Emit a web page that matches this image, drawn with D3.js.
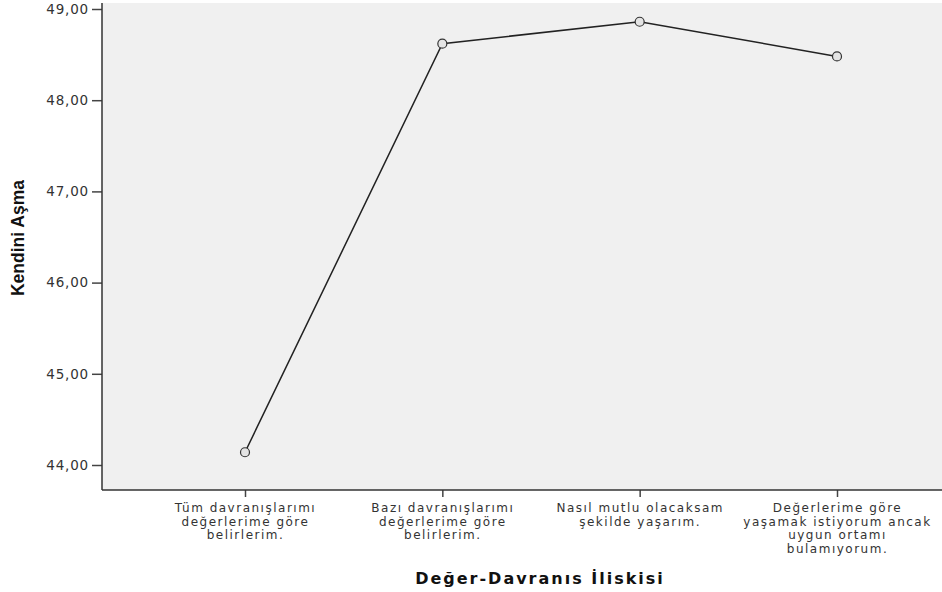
<!DOCTYPE html>
<html>
<head>
<meta charset="utf-8">
<script src="https://cdn.jsdelivr.net/npm/d3@7"></script>
<style>
  body { margin: 0; background: #fff; }
  svg { display: block; }
  .tick text { font-family: "DejaVu Sans", sans-serif; fill: #333; }
</style>
</head>
<body>
<div class="display"></div>
<script>
var categories = [
  ["Tüm davranışlarımı", "değerlerime göre", "belirlerim."],
  ["Bazı davranışlarımı", "değerlerime göre", "belirlerim."],
  ["Nasıl mutlu olacaksam", "şekilde yaşarım."],
  ["Değerlerime göre", "yaşamak istiyorum ancak", "uygun ortamı", "bulamıyorum."]
];
var means = [44.14, 48.62, 48.86, 48.48];
var yTicks = [44, 45, 46, 47, 48, 49];
var yTitle = "Kendini Aşma";
var xTitle = "Değer-Davranıs İliskisi";

var width = 942, height = 592;
var plotLeft = 102, plotRight = 942, plotTop = 3, plotBottom = 490;

var svg = d3.select(".display")
  .append("svg")
  .attr("width", width)
  .attr("height", height);

svg.append("rect")
  .attr("x", plotLeft).attr("y", plotTop)
  .attr("width", plotRight - plotLeft).attr("height", plotBottom - plotTop)
  .attr("fill", "#f0f0f0");

var x = d3.scalePoint()
  .domain(d3.range(categories.length))
  .range([245, 837]);

var y = d3.scaleLinear()
  .domain([44, 49])
  .range([465, 9]);

// y axis
var yAxis = svg.append("g")
  .attr("transform", "translate(" + plotLeft + ",0)")
  .call(d3.axisLeft(y).tickValues(yTicks).tickSize(10).tickPadding(3)
    .tickFormat(function(d) { return d3.format(".2f")(d).replace(".", ","); }));
yAxis.select(".domain").remove();
yAxis.selectAll(".tick line").attr("stroke", "#444").attr("stroke-width", 1.5);
yAxis.selectAll(".tick text").attr("font-size", 13.5).attr("letter-spacing", "0.8px");

// x axis
var xAxis = svg.append("g")
  .attr("transform", "translate(0," + plotBottom + ")")
  .call(d3.axisBottom(x).tickSize(7).tickFormat(""));
xAxis.select(".domain").remove();
xAxis.selectAll(".tick line").attr("stroke", "#444").attr("stroke-width", 1.5);

xAxis.selectAll(".tick").each(function(d) {
  var t = d3.select(this).append("text")
    .attr("text-anchor", "middle")
    .attr("font-size", 12)
    .attr("letter-spacing", "1.5px")
    .attr("fill", "#333");
  categories[d].forEach(function(line, i) {
    t.append("tspan").attr("x", 0).attr("y", 22 + i * 13.7).text(line);
  });
});

// axis lines
svg.append("line")
  .attr("x1", plotLeft).attr("x2", plotLeft).attr("y1", plotTop).attr("y2", plotBottom)
  .attr("stroke", "#333").attr("stroke-width", 1.5);
svg.append("line")
  .attr("x1", plotLeft).attr("x2", plotRight).attr("y1", plotBottom).attr("y2", plotBottom)
  .attr("stroke", "#333").attr("stroke-width", 1.5);

// line + markers
var line = d3.line()
  .x(function(d, i) { return x(i); })
  .y(function(d) { return y(d); });

svg.append("path")
  .datum(means)
  .attr("d", line)
  .attr("fill", "none")
  .attr("stroke", "#222")
  .attr("stroke-width", 1.5);

svg.selectAll("circle")
  .data(means)
  .enter().append("circle")
  .attr("cx", function(d, i) { return x(i); })
  .attr("cy", function(d) { return y(d); })
  .attr("r", 4.5)
  .attr("fill", "#e4e4e4")
  .attr("stroke", "#333")
  .attr("stroke-width", 1.2);

// titles
svg.append("text")
  .attr("transform", "translate(24," + 238 + ") rotate(-90)")
  .attr("text-anchor", "middle")
  .attr("font-family", "'Liberation Sans Narrow', 'Liberation Sans', sans-serif")
  .attr("font-weight", "bold")
  .attr("font-size", 17.5)
  .attr("fill", "#111")
  .text(yTitle);

svg.append("text")
  .attr("x", 540).attr("y", 584)
  .attr("text-anchor", "middle")
  .attr("font-family", "DejaVu Sans, sans-serif")
  .attr("font-weight", "bold")
  .attr("font-size", 16)
  .attr("letter-spacing", "2px")
  .attr("fill", "#111")
  .text(xTitle);
</script>
</body>
</html>
